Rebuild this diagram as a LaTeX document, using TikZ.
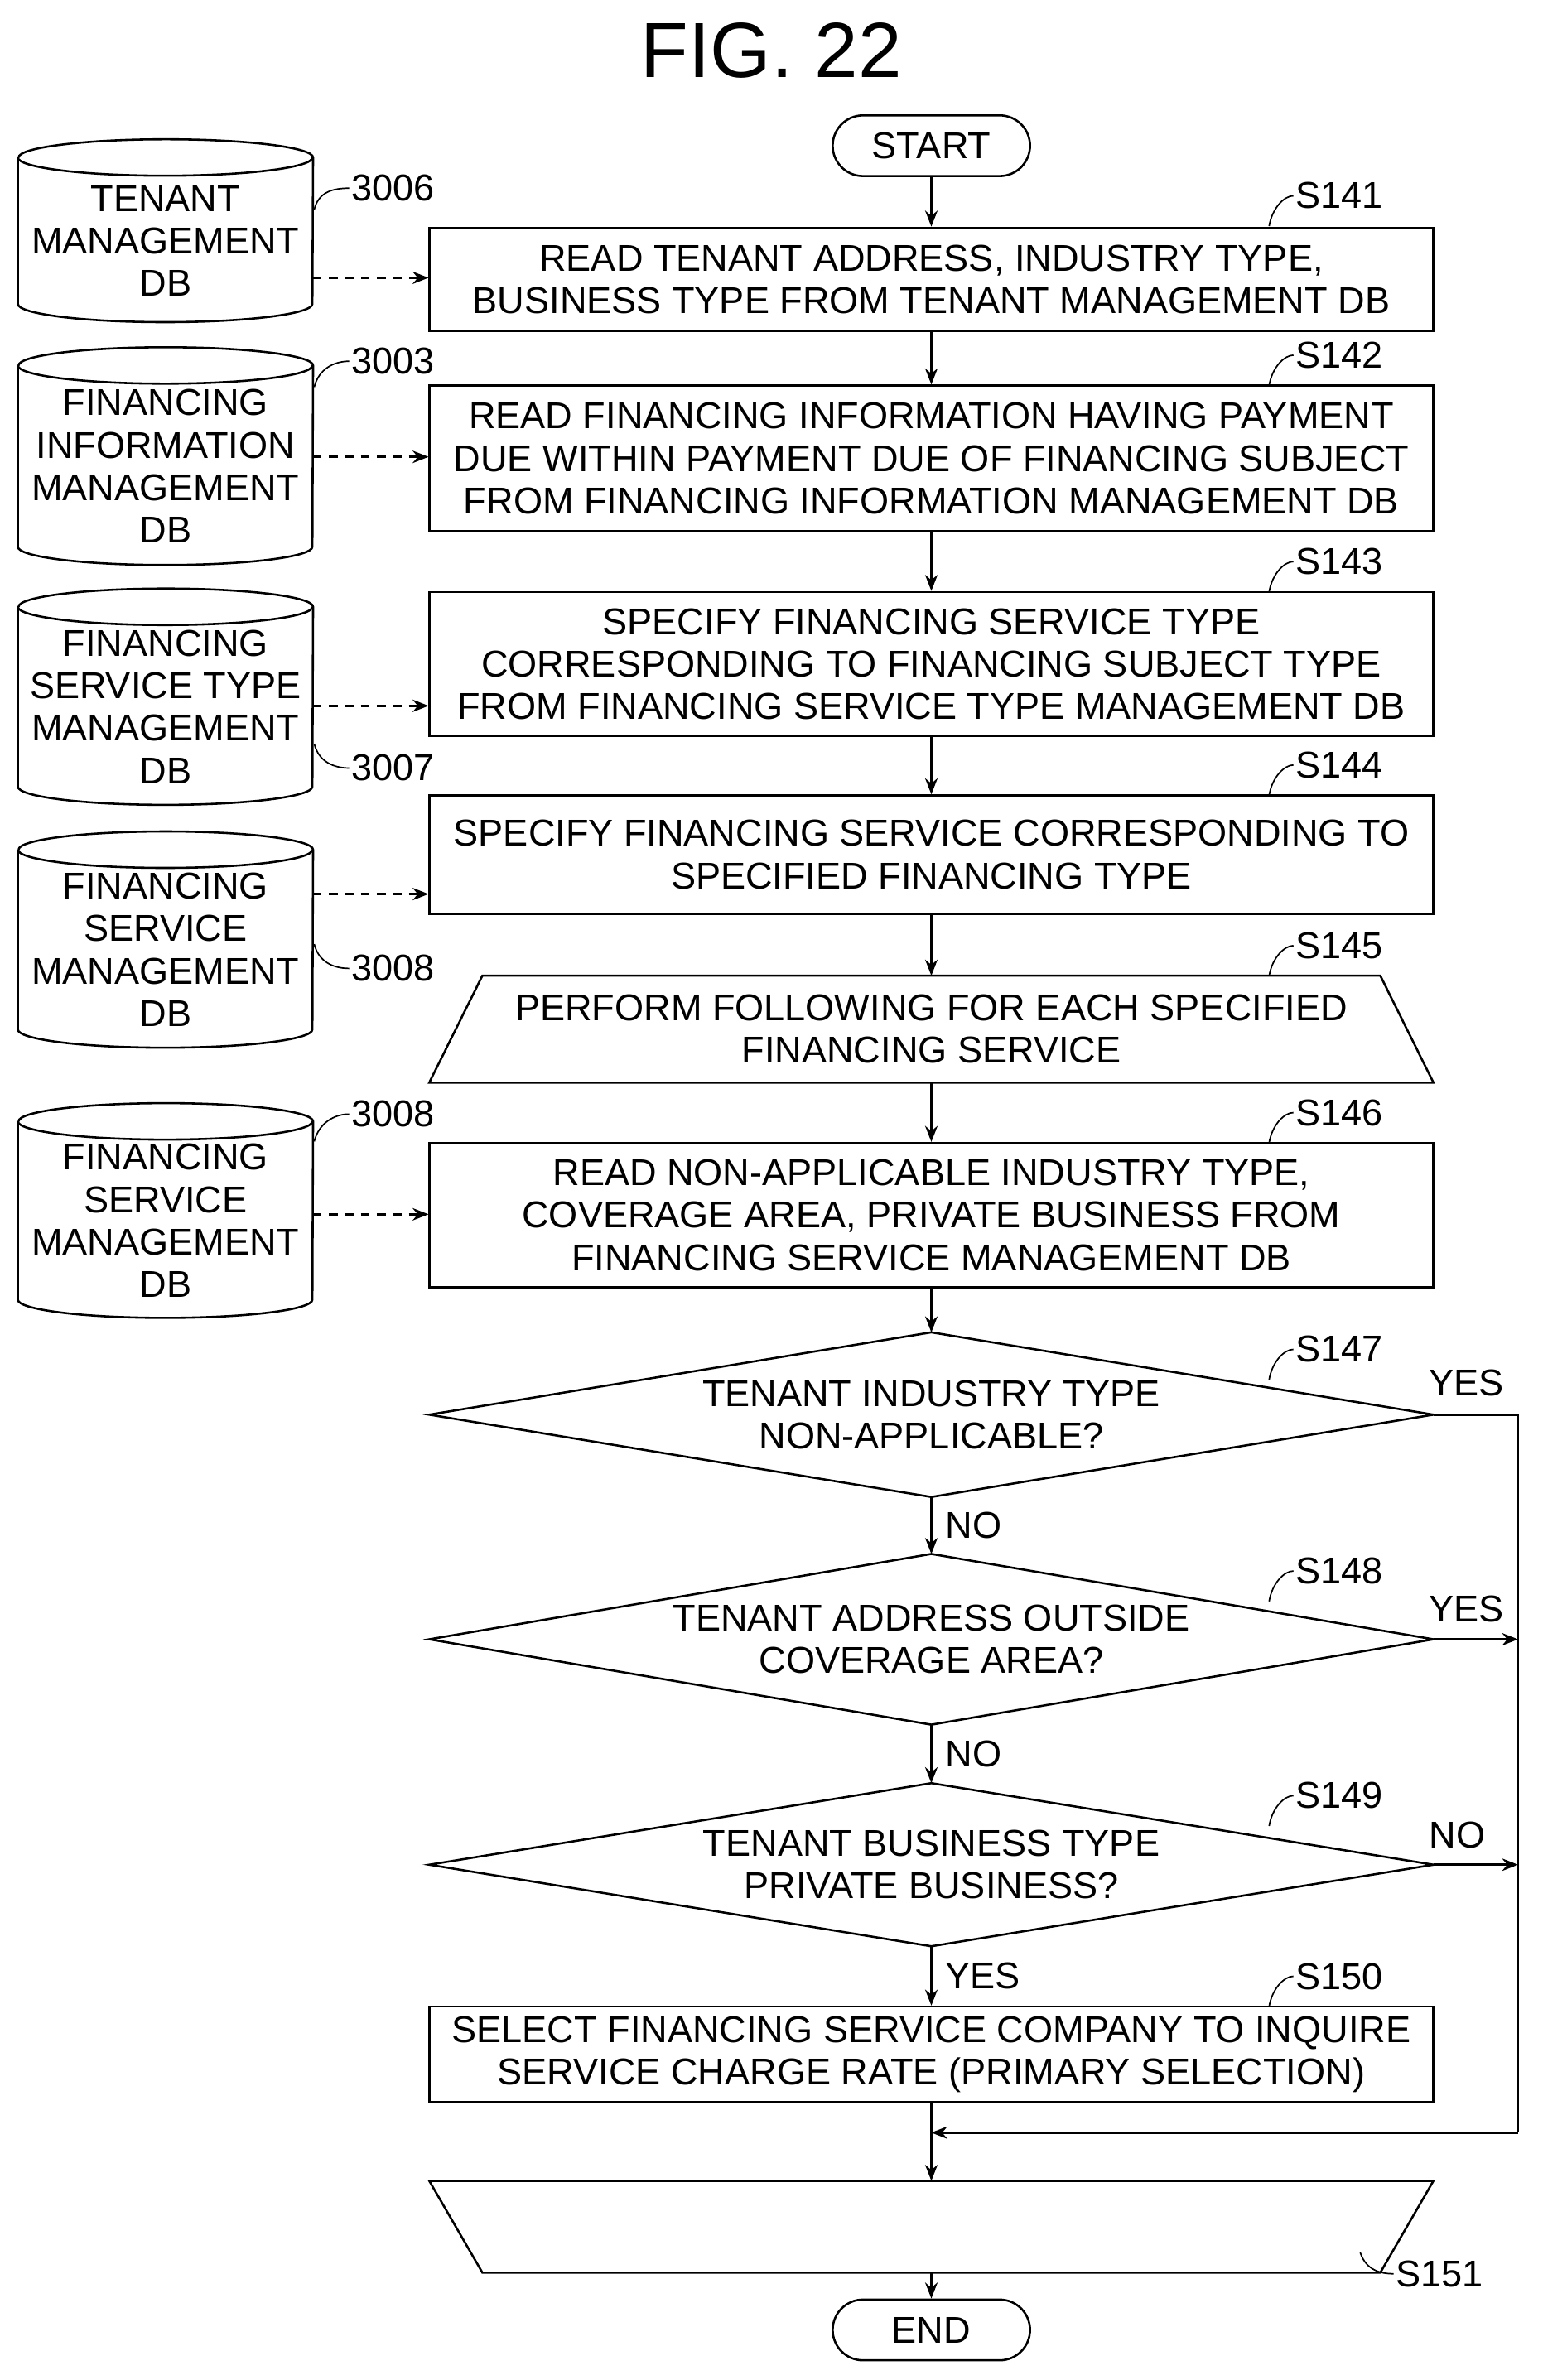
\documentclass[tikz,border=0pt]{standalone}
\usepackage{fontspec}
\setmainfont{Liberation Sans}
\usetikzlibrary{arrows.meta}
\begin{document}
\begin{tikzpicture}[x=0.03cm,y=-0.03cm,
  every node/.style={font=\fontsize{21}{23.9}\selectfont,align=center},
  inv/.style={draw=none,inner sep=0pt,minimum width=661*0.03cm},
  box/.style={inv,draw,line width=1.2pt},
  dbn/.style={draw=none,inner sep=0pt,minimum width=194*0.03cm},
  ln/.style={line width=1.2pt},
  arr/.style={ln,-{Stealth[length=9pt,width=7pt]}},
  darr/.style={ln,dashed,dash pattern=on 5pt off 4pt,-{Stealth[length=9pt,width=7pt]}},
  lbl/.style={anchor=west,inner sep=1pt},
  term/.style={draw,line width=1.2pt,rounded corners=0.6cm,minimum width=130*0.03cm,minimum height=40*0.03cm,inner sep=0pt}]
\useasboundingbox (0,0) rectangle (1016,1568);
\node[font=\fontsize{44}{50}\selectfont] (title) at (508,33) {FIG. 22};
\node[term] (start) at (613.5,96) {START};
\node[box,minimum height=68*0.03cm] (s141) at (613.5,184) {READ TENANT ADDRESS, INDUSTRY TYPE,\\BUSINESS TYPE FROM TENANT MANAGEMENT DB};
\node[box,minimum height=96*0.03cm] (s142) at (613.5,302) {READ FINANCING INFORMATION HAVING PAYMENT\\DUE WITHIN PAYMENT DUE OF FINANCING SUBJECT\\FROM FINANCING INFORMATION MANAGEMENT DB};
\node[box,minimum height=95*0.03cm] (s143) at (613.5,437.5) {SPECIFY FINANCING SERVICE TYPE\\CORRESPONDING TO FINANCING SUBJECT TYPE\\FROM FINANCING SERVICE TYPE MANAGEMENT DB};
\node[box,minimum height=78*0.03cm] (s144) at (613.5,563) {SPECIFY FINANCING SERVICE CORRESPONDING TO\\SPECIFIED FINANCING TYPE};
\node[inv,minimum height=70*0.03cm] (s145) at (613.5,678) {PERFORM FOLLOWING FOR EACH SPECIFIED\\FINANCING SERVICE};
\draw[ln] (s145.south west) -- (s145.south east) -- ([xshift=-1.05cm]s145.north east) -- ([xshift=1.05cm]s145.north west) -- cycle;
\node[box,minimum height=95*0.03cm] (s146) at (613.5,800.5) {READ NON-APPLICABLE INDUSTRY TYPE,\\COVERAGE AREA, PRIVATE BUSINESS FROM\\FINANCING SERVICE MANAGEMENT DB};
\node[inv,minimum height=108*0.03cm] (d147) at (613.5,932) {TENANT INDUSTRY TYPE\\NON-APPLICABLE?};
\node[inv,minimum height=112*0.03cm] (d148) at (613.5,1080) {TENANT ADDRESS OUTSIDE\\COVERAGE AREA?};
\node[inv,minimum height=107*0.03cm] (d149) at (613.5,1228.5) {TENANT BUSINESS TYPE\\PRIVATE BUSINESS?};
\foreach \d in {d147,d148,d149}
  \draw[ln] (\d.west) -- (\d.north) -- (\d.east) -- (\d.south) -- cycle;
\node[box,minimum height=63*0.03cm] (s150) at (613.5,1353.5) {SELECT FINANCING SERVICE COMPANY TO INQUIRE\\SERVICE CHARGE RATE (PRIMARY SELECTION)};
\node[inv,minimum height=60*0.03cm] (s151) at (613.5,1467) {};
\draw[ln] (s151.north west) -- (s151.north east) -- ([xshift=-1.05cm]s151.south east) -- ([xshift=1.05cm]s151.south west) -- cycle;
\node[term] (end) at (613.5,1535) {END};
\coordinate (m) at (613.5,1405);
\coordinate (r1) at (1000,932);
\coordinate (r2) at (1000,1080);
\coordinate (r3) at (1000,1228.5);
\coordinate (r4) at (1000,1405);
% flow
\draw[arr] (start) -- (s141);
\draw[arr] (s141) -- (s142);
\draw[arr] (s142) -- (s143);
\draw[arr] (s143) -- (s144);
\draw[arr] (s144) -- (s145);
\draw[arr] (s145) -- (s146);
\draw[arr] (s146) -- (d147.north);
\draw[arr] (d147.south) -- node[right,xshift=4pt]{NO} (d148.north);
\draw[arr] (d148.south) -- node[right,xshift=4pt]{NO} (d149.north);
\draw[arr] (d149.south) -- node[right,xshift=4pt]{YES} (s150);
\draw[arr] (s150) -- (s151.north);
\draw[arr] (s151.south) -- (end);
\draw[ln] (d147.east) -- (r1) -- (r4);
\draw[arr] (r4) -- (m);
\draw[arr] (d148.east) -- (r2);
\draw[arr] (d149.east) -- (r3);
\node at (966,911) {YES};
\node at (966,1060) {YES};
\node at (960,1209) {NO};
% step labels
\foreach \n/\y in {S141/149,S142/254,S143/390,S144/524,S145/643,S146/753,S147/909,S148/1055,S149/1203,S150/1322}{
  \draw[line width=0.8pt] (836,\y) .. controls (838,\y-12) and (846,\y-20) .. (852,\y-20);
  \node[lbl] at (852,\y-20) {\n};
}
\draw[line width=0.8pt] (896,1484) .. controls (900,1496) and (910,1498) .. (918,1498);
\node[lbl] at (918,1498) {S151};
% databases
\foreach \nm/\t/\b/\txt in {db1/92/212/{TENANT\\MANAGEMENT\\DB},db2/229/372/{FINANCING\\INFORMATION\\MANAGEMENT\\DB},db3/388/530/{FINANCING\\SERVICE TYPE\\MANAGEMENT\\DB},db4/548/690/{FINANCING\\SERVICE\\MANAGEMENT\\DB},db5/727/868/{FINANCING\\SERVICE\\MANAGEMENT\\DB}}{
  \node[dbn,minimum height={(\b-\t)*0.03cm}] (\nm) at (109,{(\t+\b)/2}) {};
  \draw[ln] ([yshift=-0.36cm]\nm.north west) -- ([yshift=0.36cm]\nm.south west)
     arc[start angle=180,end angle=360,x radius=2.91cm,y radius=0.36cm]
     -- ([yshift=-0.36cm]\nm.north east)
     arc[start angle=0,end angle=180,x radius=2.91cm,y radius=0.36cm];
  \draw[ln] ([yshift=-0.36cm]\nm.north west) arc[start angle=180,end angle=360,x radius=2.91cm,y radius=0.36cm];
  \node at ([yshift=-0.2cm]\nm.center) {\txt};
}
\coordinate (a1) at (206,183); \draw[darr] (a1) -- (s141.west |- a1);
\coordinate (a2) at (206,301); \draw[darr] (a2) -- (s142.west |- a2);
\coordinate (a3) at (206,465); \draw[darr] (a3) -- (s143.west |- a3);
\coordinate (a4) at (206,589); \draw[darr] (a4) -- (s144.west |- a4);
\coordinate (a5) at (206,800); \draw[darr] (a5) -- (s146.west |- a5);
% db labels
\draw[line width=0.8pt] (207,138) .. controls (210,126) and (220,124) .. (230,124); \node[lbl] at (230,124) {3006};
\draw[line width=0.8pt] (207,255) .. controls (210,243) and (220,238) .. (230,238); \node[lbl] at (230,238) {3003};
\draw[line width=0.8pt] (207,490) .. controls (210,502) and (220,506) .. (230,506); \node[lbl] at (230,506) {3007};
\draw[line width=0.8pt] (207,622) .. controls (210,634) and (220,638) .. (230,638); \node[lbl] at (230,638) {3008};
\draw[line width=0.8pt] (207,752) .. controls (210,740) and (220,734) .. (230,734); \node[lbl] at (230,734) {3008};
\end{tikzpicture}
\end{document}
